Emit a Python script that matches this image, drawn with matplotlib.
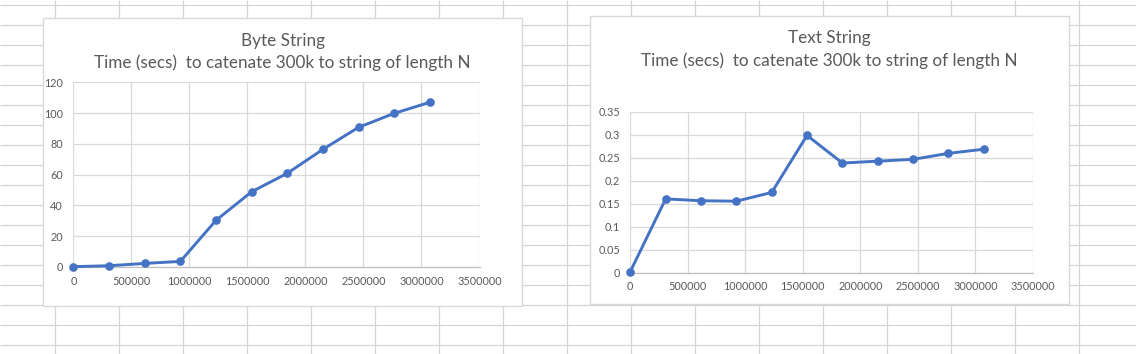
import numpy as np
import matplotlib
matplotlib.use("Agg")
from matplotlib import pyplot as plt
from matplotlib.patches import Rectangle

# string length N (chars) at each sample
lengths = [0, 307200, 614400, 921600, 1228800, 1536000,
           1843200, 2150400, 2457600, 2764800, 3072000]
# seconds to catenate 300k onto a byte string of length N
byteTimes = [0.1, 0.7, 2.2, 3.5, 30.2, 48.8, 60.8, 76.4, 90.7, 99.8, 107.0]
# seconds to catenate 300k onto a text string of length N
textTimes = [0.002, 0.160, 0.156, 0.155, 0.174, 0.298,
             0.238, 0.242, 0.246, 0.259, 0.268]

xTicks = [0, 500000, 1000000, 1500000, 2000000, 2500000, 3000000, 3500000]
byteTicks = [0, 20, 40, 60, 80, 100, 120]
textTicks = [0, 0.05, 0.1, 0.15, 0.2, 0.25, 0.3, 0.35]
titles = ["Byte String", "Text String"]
subtitle = "Time (secs)  to catenate 300k to string of length N"

W, H = 1136, 354
FONT = "Lato"
TXT = "#595959"
GRID = "#d9d9d9"
SHEET = "#d4d4d4"
BLUE = "#4472C4"

plt.rcParams['font.family'] = [FONT, 'DejaVu Sans']

fig = plt.figure(figsize=(W / 100, H / 100), dpi=100)

#background axes in pixel coords, draws the spreadsheet cells
bg = fig.add_axes([0, 0, 1, 1])
bg.set_xlim(0, W)
bg.set_ylim(H, 0)
bg.axis("off")
bg.vlines(np.arange(55, W, 64), 0, H, color=SHEET, lw=0.9)
bg.hlines(np.arange(5, H, 20), 0, W, color=SHEET, lw=0.9)


#converts pixel box (left, top, right, bottom) to figure fractions
def pxRect(l, t, r, b):
    return [l / W, 1 - b / H, (r - l) / W, (b - t) / H]


def drawChart(box, plotBox, title, ys, yTicks, ylim, titleX, titleY):
    l, t, r, b = box
    bg.add_patch(Rectangle((l, t), r - l, b - t, facecolor="white",
                           edgecolor=GRID, lw=1, zorder=3))
    bg.text(titleX, titleY, title, ha="center", va="center",
            fontsize=12.3, color=TXT, zorder=4)
    bg.text(titleX, titleY + 22, subtitle, ha="center", va="center",
            fontsize=12.3, color=TXT, zorder=4)

    ax = fig.add_axes(pxRect(*plotBox))
    ax.set_facecolor("none")
    ax.plot(lengths, ys, color=BLUE, lw=2.1, marker="o", ms=5.2,
            clip_on=False, zorder=3)
    ax.set_xlim(0, 3500000)
    ax.set_ylim(*ylim)
    ax.set_xticks(xTicks)
    ax.set_xticklabels([str(v) for v in xTicks])
    ax.set_yticks(yTicks)
    ax.set_yticklabels([f"{v:g}" for v in yTicks])
    ax.grid(True, color=GRID, lw=0.9)
    ax.set_axisbelow(True)
    for s in ["top", "right", "left"]:
        ax.spines[s].set_visible(False)
    ax.spines["bottom"].set_color("#bfbfbf")
    ax.spines["bottom"].set_linewidth(0.9)
    ax.tick_params(length=0, labelsize=7.8, labelcolor=TXT)
    ax.tick_params(axis="x", pad=6.3)
    ax.tick_params(axis="y", pad=7.5)
    return ax


drawChart((42.5, 18.3, 522.3, 306), (73.4, 82.3, 479.5, 266.8),
          titles[0], byteTimes, byteTicks, (0, 120), 282.8, 40.7)
drawChart((589.5, 16, 1069.4, 303.5), (630.3, 111.5, 1033, 272.5),
          titles[1], textTimes, textTicks, (0, 0.35), 829.5, 38.5)

fig.savefig("out.png", dpi=100)
